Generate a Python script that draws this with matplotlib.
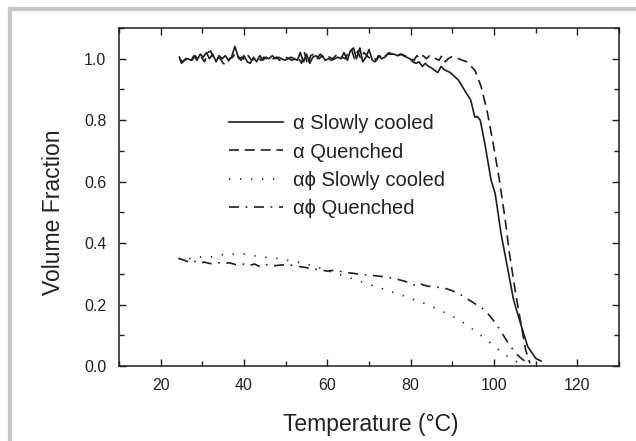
import matplotlib
matplotlib.use("Agg")
import matplotlib.pyplot as plt
from matplotlib.lines import Line2D
from matplotlib.ticker import MultipleLocator

plt.rcParams['font.family'] = ['Liberation Sans', 'DejaVu Sans']

# alpha, slowly cooled (solid)
slow_T = [24.5, 25.0, 25.7, 26.5, 27.3, 28.0, 28.7, 29.5, 30.2, 31.0, 31.7, 32.5,
          33.3, 34.0, 34.8, 35.5, 36.3, 37.0, 37.8, 38.5, 39.3, 40.0, 40.8, 41.5,
          42.3, 43.0, 43.8, 44.5, 45.3, 46.0, 46.8, 47.5, 48.3, 49.0, 49.8, 50.5,
          51.3, 52.0, 52.8, 53.5, 54.3, 55.0, 55.8, 56.5, 57.3, 58.0, 58.8, 59.5,
          60.3, 61.0, 61.8, 62.5, 63.3, 64.0, 64.8, 65.5, 66.3, 67.0, 67.8, 68.5,
          69.3, 70.0, 70.8, 71.5, 72.3, 73.0, 73.8, 74.5, 75.3, 76.0, 76.8, 77.5,
          78.3, 79.0, 79.8, 80.5, 81.3, 82.0, 82.8, 83.5, 84.3, 85.0, 85.8, 86.5,
          87.3, 88.0, 89.5, 91.5, 93.4, 94.4, 95.4, 96.0, 96.7, 97.8, 99.3, 100.3,
          101.7, 103.2, 104.7, 106.6, 108.1, 110.0, 111.3]
slow_V = [1.005, 0.985, 0.995, 1.0, 0.995, 1.01, 0.995, 1.015, 1.005, 1.02, 1.0, 1.015,
          0.99, 1.01, 1.0, 1.01, 0.995, 1.005, 1.04, 1.01, 0.995, 1.01, 0.99, 0.985,
          1.005, 0.99, 1.01, 0.995, 1.005, 1.0, 1.01, 1.0, 1.005, 1.0, 0.995, 1.0,
          1.005, 1.0, 0.995, 1.02, 0.99, 1.015, 0.985, 1.005, 1.01, 1.0, 1.01, 0.995,
          1.0, 0.995, 1.0, 1.005, 1.0, 1.02, 0.995, 1.025, 1.035, 1.0, 1.035, 0.99,
          1.005, 1.03, 0.995, 0.99, 1.01, 1.0, 1.005, 1.015, 1.015, 1.015, 1.01, 1.015,
          1.01, 1.005, 1.0, 0.99, 0.985, 0.99, 0.975, 0.985, 0.975, 0.97, 0.962, 0.955,
          0.975, 0.965, 0.955, 0.93, 0.887, 0.866, 0.81, 0.812, 0.80, 0.724, 0.605, 0.56,
          0.43, 0.323, 0.215, 0.128, 0.063, 0.025, 0.016]

# alpha, quenched (dashed)
quen_T = [24.5, 25.3, 26.0, 26.8, 27.5, 28.3, 29.0, 29.8, 30.5, 31.3, 32.0, 32.8,
          33.5, 34.3, 35.0, 35.8, 36.5, 37.3, 38.0, 38.8, 39.5, 40.3, 41.0, 41.8,
          42.5, 43.3, 44.0, 44.8, 45.5, 46.3, 47.0, 47.8, 48.5, 49.3, 50.0, 50.8,
          51.5, 52.3, 53.0, 53.8, 54.5, 55.3, 56.0, 56.8, 57.5, 58.3, 59.0, 59.8,
          60.5, 61.3, 62.0, 62.8, 63.5, 64.3, 65.0, 65.8, 66.5, 67.3, 68.0, 68.8,
          69.5, 70.3, 71.0, 71.8, 72.5, 73.3, 74.0, 74.8, 75.5, 76.3, 77.0, 77.8,
          78.5, 79.3, 80.0, 80.8, 81.5, 82.3, 83.0, 83.8, 84.5, 85.3, 86.0, 86.8,
          87.5, 88.3, 89.0, 89.8, 90.5, 91.5, 93.4, 95.4, 96.9, 98.3, 99.8, 101.3,
          102.7, 103.7, 105.2, 106.6, 107.6, 108.6]
quen_V = [1.0, 0.99, 1.0, 1.005, 0.995, 1.01, 0.995, 1.005, 0.99, 1.02, 1.025, 1.0,
          1.005, 1.0, 0.985, 0.98, 1.0, 1.005, 1.02, 1.0, 1.005, 0.995, 1.01, 0.995,
          1.0, 1.005, 0.995, 1.005, 1.0, 0.995, 1.0, 1.005, 0.995, 1.0, 1.005, 1.0,
          0.995, 1.0, 1.005, 0.985, 1.02, 0.98, 1.01, 1.015, 1.0, 1.015, 1.005, 1.01,
          1.005, 1.0, 1.01, 1.015, 1.005, 1.0, 1.02, 1.03, 1.0, 1.025, 1.0, 1.02,
          1.01, 1.0, 1.005, 0.995, 1.01, 1.0, 1.01, 1.02, 1.015, 1.02, 1.01, 1.015,
          1.01, 1.005, 1.0, 0.995, 1.01, 1.0, 1.01, 1.0, 1.01, 1.005, 1.0, 0.995,
          1.01, 0.99, 1.0, 1.006, 1.005, 1.0, 0.99, 0.963, 0.91, 0.833, 0.724, 0.605,
          0.475, 0.367, 0.236, 0.128, 0.052, 0.009]

# alpha-phi, slowly cooled (dotted)
ap_slow_T = [24.3, 26, 28, 30, 32, 34, 36, 38, 40, 42, 44, 46, 48, 50, 52, 54, 56, 58,
             60, 62, 64, 66, 68, 70, 72, 74, 76, 78, 80, 82, 84, 86, 88, 90, 92, 94,
             96, 98, 100, 102, 104, 106, 107.5]
ap_slow_V = [0.35, 0.345, 0.355, 0.355, 0.355, 0.36, 0.365, 0.363, 0.365, 0.36, 0.355,
             0.353, 0.35, 0.345, 0.34, 0.335, 0.328, 0.32, 0.31, 0.302, 0.293, 0.284,
             0.275, 0.266, 0.257, 0.248, 0.239, 0.23, 0.22, 0.21, 0.2, 0.188, 0.175,
             0.162, 0.147, 0.128, 0.108, 0.088, 0.065, 0.043, 0.024, 0.01, 0.003]

# alpha-phi, quenched (dash-dot)
ap_quen_T = [24.3, 25.5, 27, 28, 29, 30.5, 32, 33.5, 35, 36.5, 38, 39.5, 41, 42.5, 44,
             45.5, 47, 48.5, 50, 52, 54, 56, 58, 60, 62, 64, 66, 68, 70, 72, 74, 76,
             78, 80, 81.5, 82.5, 84, 86, 88, 90, 92, 94, 96, 97.5, 99, 100.5, 102,
             103.5, 105, 106.5, 108, 108.5]
ap_quen_V = [0.35, 0.345, 0.337, 0.342, 0.334, 0.338, 0.333, 0.337, 0.333, 0.336, 0.33,
             0.333, 0.326, 0.332, 0.322, 0.33, 0.326, 0.328, 0.33, 0.327, 0.322, 0.318,
             0.313, 0.309, 0.312, 0.305, 0.302, 0.298, 0.296, 0.293, 0.29, 0.285, 0.278,
             0.27, 0.259, 0.266, 0.26, 0.257, 0.254, 0.245, 0.232, 0.215, 0.198, 0.185,
             0.163, 0.137, 0.105, 0.073, 0.045, 0.025, 0.01, 0.005]

labels = ["α Slowly cooled", "α Quenched", "αϕ Slowly cooled", "αϕ Quenched"]

ink = '#1e1e1e'
fig = plt.figure(figsize=(6.36, 4.41), dpi=100)
ax = fig.add_axes([119 / 636, 1 - 366 / 441, 500 / 636, 338 / 441])

ax.plot(slow_T, slow_V, color=ink, lw=1.2, ls='-', label=labels[0])
ax.plot(quen_T, quen_V, color=ink, lw=1.2, ls=(0, (6, 3.5)), label=labels[1])
ax.plot(ap_slow_T, ap_slow_V, color=ink, lw=1.2, ls=(0, (0.8, 5.8)), label=labels[2])
ax.plot(ap_quen_T, ap_quen_V, color=ink, lw=1.2, ls=(0, (6, 4, 1, 4)), label=labels[3])

ax.set_xlim(10, 130)
ax.set_ylim(0, 1.1)
ax.xaxis.set_minor_locator(MultipleLocator(10))
ax.yaxis.set_minor_locator(MultipleLocator(0.1))
ax.set_yticks([0, 0.2, 0.4, 0.6, 0.8, 1.0])
ax.set_xticks([20, 40, 60, 80, 100, 120])
ax.tick_params(which='both', direction='in', top=True, right=True, color=ink,
               labelsize=11.5, labelcolor='#222222', width=1)
ax.tick_params(which='major', length=5, pad=9)
ax.tick_params(which='minor', length=3.5)
for s in ax.spines.values():
    s.set_color(ink)
    s.set_linewidth(1.1)

ax.set_xlabel("Temperature (°C)", fontsize=16.5, color='#222222')
ax.set_ylabel("Volume Fraction", fontsize=16.5, color='#222222')
ax.xaxis.set_label_coords(0.504, -0.139)
ax.yaxis.set_label_coords(-0.107, 0.456)

ax.legend(loc='upper left', bbox_to_anchor=(36.3, 0.82), bbox_transform=ax.transData,
          frameon=False, fontsize=14.5, handlelength=2.7, handletextpad=0.5,
          labelspacing=0.47, borderpad=0, borderaxespad=0, labelcolor='#222222')

# light grey frame around the picture
fig.add_artist(Line2D([10 / 636, 10 / 636], [0, 1 - 9 / 441], transform=fig.transFigure,
                      color='#c8c8c8', lw=3))
fig.add_artist(Line2D([10 / 636, 1], [1 - 9 / 441, 1 - 9 / 441], transform=fig.transFigure,
                      color='#c8c8c8', lw=3))

fig.savefig("out.png", dpi=100)
